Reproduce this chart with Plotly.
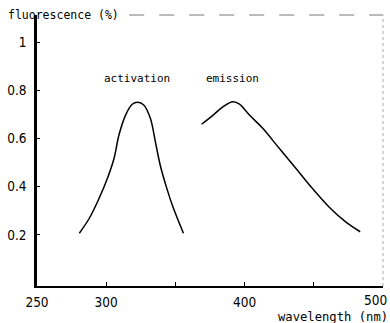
import plotly.graph_objects as go

# Data
act_wl = [280.6, 287.8, 294.9, 300.9, 305.7, 309.2, 314.0, 318.8, 322.9, 327.1, 331.9, 335.5, 339.0, 343.8, 348.6, 355.8]
act_val = [0.207, 0.269, 0.352, 0.435, 0.518, 0.614, 0.697, 0.742, 0.750, 0.739, 0.684, 0.587, 0.490, 0.393, 0.310, 0.207]
emi_wl = [368.9, 377.3, 384.5, 391.6, 396.3, 403.5, 413.1, 425.0, 437.0, 448.9, 460.8, 472.8, 483.5]
emi_val = [0.659, 0.697, 0.732, 0.752, 0.742, 0.697, 0.642, 0.559, 0.476, 0.393, 0.317, 0.255, 0.213]
x_ticks = [250, 300, 350, 400, 450, 500]
x_ticktext = ["250", "300", "", "400", "", ""]
y_ticks = [0.2, 0.4, 0.6, 0.8, 1.0]
y_ticktext = ["0.2", "0.4", "0.6", "0.8", "1"]

FONT = "DejaVu Sans Mono, Liberation Mono, monospace"
TICKFONT = "Liberation Sans Narrow, Arial Narrow, DejaVu Sans Condensed, sans-serif"

fig = go.Figure()
for xs, ys in [(act_wl, act_val), (emi_wl, emi_val)]:
    fig.add_trace(go.Scatter(x=xs, y=ys, mode="lines",
                             line=dict(color="black", width=1.5, shape="spline", smoothing=1.0),
                             showlegend=False, hoverinfo="skip"))

fig.update_layout(
    width=390, height=323,
    margin=dict(l=34, r=7, t=15, b=37),
    paper_bgcolor="white", plot_bgcolor="white",
    font=dict(family=FONT, size=12, color="black"),
    xaxis=dict(range=[250, 500], tickvals=x_ticks, ticktext=x_ticktext,
               ticks="inside", ticklen=4, tickwidth=1, tickcolor="black",
               showline=True, linewidth=2, linecolor="black",
               showgrid=False, zeroline=False, ticklabelstandoff=3,
               tickfont=dict(family=TICKFONT, size=13.5)),
    yaxis=dict(range=[-0.012, 1.112], tickvals=y_ticks, ticktext=y_ticktext,
               ticks="inside", ticklen=3, tickwidth=1, tickcolor="black",
               showline=True, linewidth=2.5, linecolor="black",
               showgrid=False, zeroline=False, ticklabelstandoff=5,
               tickfont=dict(family=TICKFONT, size=13.5)),
    shapes=[
        dict(type="line", xref="paper", yref="paper", x0=0.2665, x1=1.0, y0=1.0, y1=1.0,
             line=dict(color="#777", width=1, dash="longdash")),
        dict(type="line", xref="paper", yref="paper", x0=1.0, x1=1.0, y0=0.0, y1=1.0,
             line=dict(color="#aaa", width=1, dash="dot")),
    ],
    annotations=[
        dict(text="fluorescence (%)", xref="paper", yref="paper", x=-0.0745, y=1.0,
             xanchor="left", yanchor="middle", xshift=-5, showarrow=False,
             font=dict(size=11.5)),
        dict(text="wavelength (nm)", xref="paper", yref="paper", x=1.0115, y=-0.114,
             xanchor="right", yanchor="middle", xshift=3, showarrow=False,
             font=dict(size=12.2)),
        dict(text="500", xref="paper", yref="paper", x=1.0115, y=-0.0517,
             xanchor="right", yanchor="middle", xshift=2, showarrow=False,
             font=dict(family=TICKFONT, size=13.5)),
        dict(text="activation", x=322, y=0.85, xanchor="center", yanchor="middle",
             showarrow=False, font=dict(size=11)),
        dict(text="emission", x=391.4, y=0.85, xanchor="center", yanchor="middle",
             showarrow=False, font=dict(size=11)),
    ],
)

fig.write_html("out.html")
